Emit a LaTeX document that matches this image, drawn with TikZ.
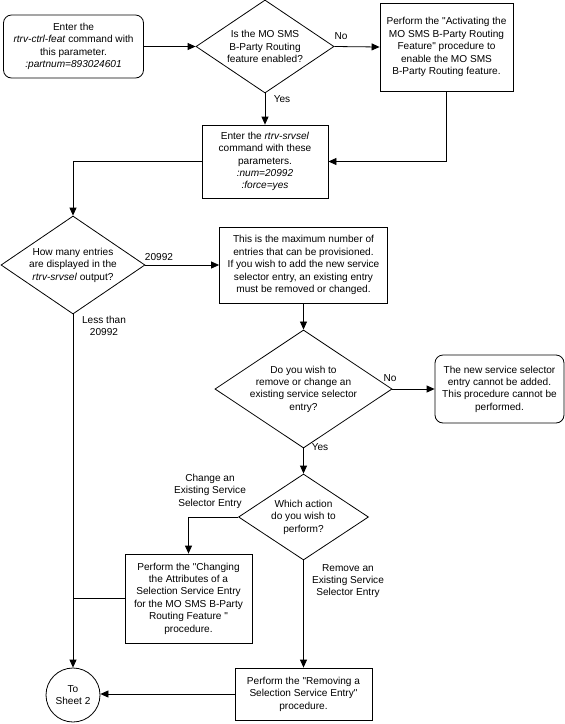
\documentclass[tikz,border=0pt]{standalone}
\usepackage{fontspec}
\setmainfont{Liberation Sans}[Ligatures=TeXOff]
\usetikzlibrary{shapes.geometric,arrows.meta}
\begin{document}
\begin{tikzpicture}[x=1pt,y=-1pt,
  font=\fontsize{10.1}{12.4}\selectfont,
  line width=0.8pt,
  every node/.style={inner sep=0pt, align=center},
  box/.style={draw, rectangle, minimum width=#1},
  rbox/.style={draw, rectangle, rounded corners=8pt, minimum width=#1},
  dia/.style={draw, diamond},
  arr/.style={-{Triangle[length=8pt,width=7pt]}},
  lab/.style={font=\fontsize{10.1}{12.4}\selectfont}]
\useasboundingbox (0,0) rectangle (565,724);

\node[rbox=140pt, minimum height=63pt] (start) at (73.5,46.5)
  {Enter the\\\textit{rtrv-ctrl-feat} command with\\this parameter.\\\textit{:partnum=893024601}};
\node[dia, minimum width=138pt, minimum height=93pt, shape aspect=1.48] (d1) at (265,46.5)
  {Is the MO SMS\\B-Party Routing\\feature enabled?};
\node[box=133pt, minimum height=88pt] (b3) at (446.5,47)
  {Perform the "Activating the\\MO SMS B-Party Routing\\Feature" procedure to\\enable the MO SMS\\B-Party Routing feature.};
\node[box=126pt, minimum height=73pt] (b4) at (265,161.5)
  {Enter the \textit{rtrv-srvsel}\\command with these\\parameters.\\\textit{:num=20992}\\\textit{:force=yes}};
\node[dia, minimum width=144pt, minimum height=98pt, shape aspect=1.47] (d2) at (73,265)
  {How many entries\\are displayed in the\\\textit{rtrv-srvsel} output?};
\node[box=168pt, minimum height=76pt] (b5) at (303.5,265)
  {This is the maximum number of\\entries that can be provisioned.\\If you wish to add the new service\\selector entry, an existing entry\\must be removed or changed.};
\node[dia, minimum width=160pt, minimum height=107pt, shape aspect=1.5] (d3) at (303.5,389)
  {Do you wish to\\remove or change an\\existing service selector\\entry?};
\node[rbox=129pt, minimum height=68pt] (b6) at (499.5,389)
  {The new service selector\\entry cannot be added.\\This procedure cannot be\\performed.};
\node[dia, minimum width=130pt, minimum height=86pt, shape aspect=1.51] (d4) at (303.5,517)
  {Which action\\do you wish to\\perform?};
\node[box=127pt, minimum height=89pt] (b7) at (188.5,598.5)
  {Perform the "Changing\\the Attributes of a\\Selection Service Entry\\for the MO SMS B-Party\\Routing Feature "\\procedure.};
\node[box=137pt, minimum height=52pt] (b8) at (303.5,694)
  {Perform the "Removing a\\Selection Service Entry"\\procedure.};
\node[draw, circle, minimum size=54pt] (sh) at (73,695) {To\\Sheet 2};

% labels
\node[lab] (lno1) at (341,36) {No};
\node[lab] (lyes1) at (282,99) {Yes};
\node[lab] (l20992) at (159,257) {20992};
\node[lab] (lless) at (104,326) {Less than\\20992};
\node[lab] (lno2) at (390,378) {No};
\node[lab] (lyes2) at (320,447) {Yes};
\node[lab] (lchg) at (210,491) {Change an\\Existing Service\\Selector Entry};
\node[lab] (lrem) at (348,581) {Remove an\\Existing Service\\Selector Entry};

\coordinate (k2) at (73,161.5);
\coordinate (k3) at (188.5,517);
\coordinate (k4) at (73,598.5);

% connectors
\draw[arr] (start.east) -- (d1.west);
\draw[arr] (d1.east) -- (b3.west);
\draw[arr] (d1.south) -- (b4.north);
\draw[arr] (b3.south) |- (b4.east);
\draw[arr] (b4.west) -- (k2) -- (d2.north);
\draw[arr] (d2.east) -- (d2.east -| b5.west);
\draw[arr] (d2.south) -- (sh.north);
\draw[arr] (b5.south) -- (d3.north);
\draw[arr] (d3.east) -- (b6.west);
\draw[arr] (d3.south) -- (d4.north);
\draw[arr] (d4.west) -- (k3) -- (b7.north);
\draw[arr] (d4.south) -- (b8.north);
\draw (b7.west) -- (k4);
\draw[arr] (b8.west) -- (b8.west -| sh.east);
\end{tikzpicture}
\end{document}
